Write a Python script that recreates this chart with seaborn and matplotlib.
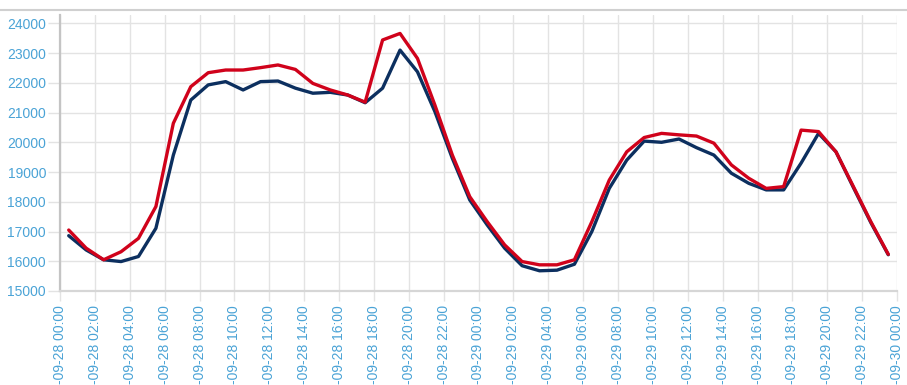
import numpy as np
import pandas as pd
import matplotlib
matplotlib.use("Agg")
import matplotlib.pyplot as plt
from matplotlib.lines import Line2D
import seaborn as sns

# ---- data ----
hours = [0.5, 1.5, 2.5, 3.5, 4.5, 5.5, 6.5, 7.5, 8.5, 9.5, 10.5, 11.5,
         12.5, 13.5, 14.5, 15.5, 16.5, 17.5, 18.5, 19.5, 20.5, 21.5, 22.5, 23.5,
         24.5, 25.5, 26.5, 27.5, 28.5, 29.5, 30.5, 31.5, 32.5, 33.5, 34.5, 35.5,
         36.5, 37.5, 38.5, 39.5, 40.5, 41.5, 42.5, 43.5, 44.5, 45.5, 46.5, 47.5]

red_values = [17050, 16440, 16050, 16320, 16770, 17840, 20640, 21870, 22340, 22430, 22430, 22510,
              22600, 22450, 21980, 21760, 21590, 21350, 23440, 23660, 22820, 21250, 19570, 18170,
              17330, 16550, 15990, 15880, 15880, 16050, 17330, 18730, 19680, 20160, 20300, 20250,
              20210, 19970, 19240, 18790, 18450, 18510, 20410, 20360, 19680, 18510, 17330, 16235]

navy_values = [16860, 16380, 16050, 15990, 16160, 17110, 19570, 21420, 21930, 22040, 21760, 22040,
               22060, 21820, 21650, 21680, 21590, 21330, 21820, 23100, 22370, 21030, 19460, 18060,
               17220, 16440, 15850, 15680, 15700, 15900, 17000, 18450, 19400, 20040, 20000, 20110,
               19820, 19570, 18960, 18620, 18400, 18400, 19300, 20300, 19680, 18480, 17300, 16220]

x_tick_pos = [0, 2, 4, 6, 8, 10, 12, 14, 16, 18, 20, 22, 24,
              26, 28, 30, 32, 34, 36, 38, 40, 42, 44, 46, 48]
x_tick_labels = ["-09-28 00:00", "-09-28 02:00", "-09-28 04:00", "-09-28 06:00",
                 "-09-28 08:00", "-09-28 10:00", "-09-28 12:00", "-09-28 14:00",
                 "-09-28 16:00", "-09-28 18:00", "-09-28 20:00", "-09-28 22:00",
                 "-09-29 00:00", "-09-29 02:00", "-09-29 04:00", "-09-29 06:00",
                 "-09-29 08:00", "-09-29 10:00", "-09-29 12:00", "-09-29 14:00",
                 "-09-29 16:00", "-09-29 18:00", "-09-29 20:00", "-09-29 22:00",
                 "-09-30 00:00"]
y_ticks = [15000, 16000, 17000, 18000, 19000, 20000, 21000, 22000, 23000, 24000]

df = pd.DataFrame({"hour": hours, "red": red_values, "navy": navy_values})

# ---- style ----
sns.set_theme(style="white")
plt.rcParams["font.family"] = ["Liberation Sans", "DejaVu Sans"]

RED = "#d0021b"
NAVY = "#0c2f5f"
TICK_TXT = "#4aa3d6"
GRID = "#e3e3e3"

fig = plt.figure(figsize=(9.07, 3.85), dpi=100)
ax = fig.add_axes([60 / 907, 1 - 291 / 385, 837 / 907, 276 / 385])

sns.lineplot(data=df, x="hour", y="navy", ax=ax, color=NAVY, linewidth=2.4,
             solid_joinstyle="round", solid_capstyle="round")
sns.lineplot(data=df, x="hour", y="red", ax=ax, color=RED, linewidth=2.4,
             solid_joinstyle="round", solid_capstyle="round")

ax.set_xlim(0, 48)
ax.set_ylim(15000, 24280)
ax.set_xticks(x_tick_pos)
ax.set_xticklabels(x_tick_labels, rotation=90, va="top", ha="center")
ax.set_yticks(y_ticks)
ax.set_yticklabels([str(v) for v in y_ticks])
ax.set_xlabel("")
ax.set_ylabel("")

ax.grid(True, color=GRID, linewidth=1.0)
ax.set_axisbelow(True)

ax.tick_params(axis="x", colors=GRID, labelcolor=TICK_TXT, labelsize=10,
               length=7, width=1, pad=3, bottom=True)
ax.tick_params(axis="y", colors=GRID, labelcolor=TICK_TXT, labelsize=10,
               length=9, width=1, pad=1, left=True)

for side in ["top", "right"]:
    ax.spines[side].set_visible(False)
ax.spines["left"].set_color("#c4c4c4")
ax.spines["left"].set_linewidth(1.6)
ax.spines["bottom"].set_color("#d6d6d6")
ax.spines["bottom"].set_linewidth(1.6)

# thin separator line across the top of the figure
fig.add_artist(Line2D([0, 1], [1 - 10 / 385, 1 - 10 / 385], transform=fig.transFigure,
                      color="#d0d0d0", linewidth=1.5))

fig.savefig("out.png", dpi=100)
